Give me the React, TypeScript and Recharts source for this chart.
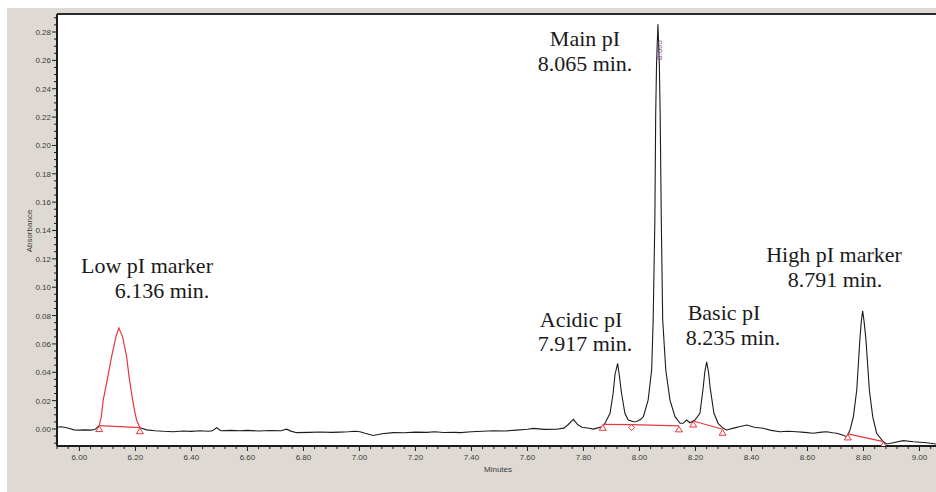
import { LineChart, Line, XAxis, YAxis, CartesianGrid, ReferenceLine } from 'recharts'

// chromatogram trace: [minutes, absorbance]
const baselineStart: [number, number][] = [
  [5.92, 0.0012], [5.935, 0.0016], [5.95, 0.001], [5.965, 0.0004], [5.98, -0.0006],
  [6.0, -0.0008], [6.02, -0.0006], [6.04, -0.0008], [6.055, -0.0004], [6.0707, 0.0024],
]

// drawn in red in the original
const lowMarkerPeak: [number, number][] = [
  [6.0707, 0.0024], [6.078, 0.0085], [6.085, 0.0204], [6.1007, 0.036], [6.115, 0.051],
  [6.1304, 0.065], [6.1411, 0.0712], [6.1543, 0.065], [6.1686, 0.051], [6.1779, 0.036],
  [6.19, 0.0204], [6.198, 0.012], [6.2043, 0.0063], [6.216, 0.0009],
]

const baselineMid: [number, number][] = [
  [6.216, 0.0009], [6.24, -0.0006], [6.27, -0.0012], [6.3, -0.0016], [6.335, -0.0019], [6.37, -0.0014],
  [6.4, -0.0017], [6.43, -0.0012], [6.46, -0.0016], [6.475, -0.0013], [6.49, 0.0009],
  [6.505, -0.0012], [6.54, -0.001], [6.573, -0.0012], [6.6, -0.001], [6.64, -0.0014],
  [6.68, -0.0011], [6.72, -0.0012], [6.74, -0.0001], [6.755, -0.0015], [6.776, -0.0026],
  [6.82, -0.0024], [6.86, -0.0021], [6.9, -0.0024], [6.93, -0.0022], [6.96, -0.002],
  [6.985, -0.0016], [7.002, -0.0019], [7.02, -0.003], [7.049, -0.0046], [7.08, -0.0034],
  [7.12, -0.0026], [7.16, -0.0027], [7.2, -0.0022], [7.24, -0.0024], [7.27, -0.002],
  [7.3, -0.0025], [7.34, -0.0024], [7.36, -0.0026], [7.4, -0.002], [7.44, -0.0016],
  [7.478, -0.0012], [7.52, -0.0014], [7.56, -0.0008], [7.6, -0.0002], [7.621, 0.0004],
  [7.66, -0.0003], [7.704, -0.0002], [7.73, 0.0006], [7.745, 0.003], [7.764, 0.0068],
  [7.78, 0.003], [7.795, 0.0012], [7.82, 0.0005], [7.835, -0.0001], [7.852, 0.0008],
  [7.869, 0.0018],
]

const proteinPeaks: [number, number][] = [
  // acidic
  [7.877, 0.004], [7.895, 0.0111], [7.906, 0.0252], [7.9125, 0.0381], [7.922, 0.0463],
  [7.9279, 0.0381], [7.936, 0.0252], [7.948, 0.0111], [7.96, 0.0063], [7.978, 0.0051],
  // main
  [7.99, 0.0053], [8.005, 0.0068], [8.014, 0.0087], [8.031, 0.0204], [8.0436, 0.0416],
  [8.049, 0.0768], [8.055, 0.147], [8.058, 0.222], [8.061, 0.257], [8.066, 0.2855],
  [8.071, 0.257], [8.074, 0.222], [8.078, 0.147], [8.083, 0.077], [8.094, 0.0416],
  [8.109, 0.0204], [8.127, 0.0087], [8.145, 0.004], [8.156, 0.004], [8.1686, 0.0063],
  [8.18, 0.0044], [8.198, 0.0063],
  // basic
  [8.216, 0.0111], [8.228, 0.0298], [8.2332, 0.04], [8.24, 0.0474], [8.2468, 0.04],
  [8.252, 0.0298], [8.266, 0.0111], [8.281, 0.004], [8.299, 0.0005],
]

const baselineEnd: [number, number][] = [
  [8.311, -0.0007], [8.34, 0.0008], [8.36, 0.0018], [8.383, 0.0028], [8.41, 0.0012],
  [8.442, 0.0005], [8.47, -0.001], [8.502, -0.0019], [8.53, -0.0016], [8.561, -0.0019],
  [8.59, -0.0024], [8.621, -0.003], [8.65, -0.0022], [8.669, -0.0019], [8.69, -0.0026],
  [8.704, -0.003], [8.725, -0.0042], [8.74, -0.0054], [8.752, -0.0007],
  // high pI marker
  [8.764, 0.0087], [8.776, 0.0275], [8.787, 0.0627], [8.792, 0.0754], [8.797, 0.0834],
  [8.8025, 0.0754], [8.809, 0.0627], [8.821, 0.0275], [8.833, 0.0087], [8.847, -0.003],
  [8.871, -0.009], [8.883, -0.0106], [8.906, -0.0097], [8.942, -0.0082], [8.978, -0.009],
  [9.026, -0.0097], [9.059, -0.0106],
]

// integration baselines (red)
const lowBase: [number, number][] = [[6.0707, 0.0024], [6.216, 0.0009]]
const mainBase: [number, number][] = [[7.869, 0.0033], [7.972, 0.0031], [8.141, 0.0022]]
const basicBase: [number, number][] = [[8.192, 0.0056], [8.297, -0.0002]]
const highBase: [number, number][] = [[8.744, -0.0035], [8.871, -0.0089]]

const xMajor = [6.0, 6.2, 6.4, 6.6, 6.8, 7.0, 7.2, 7.4, 7.6, 7.8, 8.0, 8.2, 8.4, 8.6, 8.8, 9.0]
const yMajor = [0, 0.02, 0.04, 0.06, 0.08, 0.1, 0.12, 0.14, 0.16, 0.18, 0.2, 0.22, 0.24, 0.26, 0.28]

const X_DOMAIN: [number, number] = [5.92, 9.059]
const Y_DOMAIN: [number, number] = [-0.012, 0.2927]

const xMinor: number[] = []
for (let i = 0; i <= 78; i++) xMinor.push(Math.round((5.92 + i * 0.04) * 100) / 100)
const yMinor: number[] = []
for (let i = 0; i <= 60; i++) yMinor.push(Math.round((-0.01 + i * 0.005) * 1000) / 1000)

const toPts = (arr: [number, number][]) => arr.map(([t, v]) => ({ t, v }))
const traceLeft = toPts(baselineStart)
const traceRight = toPts([...baselineMid, ...proteinPeaks, ...baselineEnd])

const RED = '#e8383d'
const INK = '#1c1c1c'
const TICK_FONT = '"Liberation Sans", Arial, sans-serif'
const NOTE_FONT = '"Liberation Serif", "Times New Roman", serif'

const isMajor = (list: number[], v: number) => list.some((m) => Math.abs(m - v) < 1e-6)

function XTick({ x, y, payload }: any) {
  const v = payload.value
  const major = isMajor(xMajor, v)
  return (
    <g>
      <line x1={x} x2={x} y1={y} y2={y + (major ? 5 : 3)} stroke={INK} strokeWidth={1} />
      {major && (
        <text x={x} y={y + 14} textAnchor="middle" fontSize={8} fill="#3a3a3a" fontFamily={TICK_FONT}>
          {v.toFixed(2)}
        </text>
      )}
    </g>
  )
}

function YTick({ x, y, payload }: any) {
  const v = payload.value
  const major = isMajor(yMajor, v)
  return (
    <g>
      <line x1={x} x2={x - (major ? 5 : 3)} y1={y} y2={y} stroke={INK} strokeWidth={1} />
      {major && (
        <text x={x - 6} y={y + 3} textAnchor="end" fontSize={8} fill="#3a3a3a" fontFamily={TICK_FONT}>
          {v.toFixed(2)}
        </text>
      )}
    </g>
  )
}

function baseMarker(diamondIndex: number) {
  return (props: any) => {
    const { cx, cy, index } = props
    if (index === diamondIndex) {
      return (
        <path
          key={index}
          d={`M${cx},${cy} L${cx + 3},${cy + 3} L${cx},${cy + 6} L${cx - 3},${cy + 3} Z`}
          fill="#fff"
          stroke={RED}
          strokeWidth={1}
        />
      )
    }
    return (
      <path
        key={index}
        d={`M${cx},${cy + 0.5} L${cx + 3.5},${cy + 6} L${cx - 3.5},${cy + 6} Z`}
        fill="#fff"
        stroke={RED}
        strokeWidth={1}
      />
    )
  }
}

const notes = [
  { text: 'Main pI', x: 585, y: 46 },
  { text: '8.065 min.', x: 585, y: 71 },
  { text: 'Low pI marker', x: 147, y: 273 },
  { text: '6.136 min.', x: 162, y: 298 },
  { text: 'Acidic pI', x: 581, y: 327 },
  { text: '7.917 min.', x: 585, y: 351 },
  { text: 'Basic pI', x: 724, y: 320 },
  { text: '8.235 min.', x: 733, y: 345 },
  { text: 'High pI marker', x: 834, y: 262 },
  { text: '8.791 min.', x: 835, y: 287 },
]

export default function App() {
  return (
    <div style={{ position: 'absolute', left: 0, top: 0, width: 936, height: 492, background: '#fff' }}>
      <div style={{ position: 'absolute', left: 7, top: 8, width: 929, height: 484, background: '#dedad3' }} />
      <div style={{ position: 'absolute', left: 0, top: 0 }}>
        <LineChart width={936} height={492} margin={{ top: 14, right: 0, bottom: 6, left: 7 }}>
          <CartesianGrid fill="#fff" horizontal={false} vertical={false} />
          <XAxis
            dataKey="t"
            type="number"
            domain={X_DOMAIN}
            allowDataOverflow
            ticks={xMinor}
            interval={0}
            tickSize={0}
            tickMargin={0}
            tick={<XTick />}
            height={40}
            axisLine={{ stroke: INK, strokeWidth: 2 }}
          />
          <YAxis
            dataKey="v"
            type="number"
            domain={Y_DOMAIN}
            allowDataOverflow
            ticks={yMinor}
            interval={0}
            tickSize={0}
            tickMargin={0}
            tick={<YTick />}
            width={50}
            axisLine={{ stroke: INK, strokeWidth: 2 }}
          />
          <ReferenceLine y={Y_DOMAIN[1]} stroke="#2a2a2a" strokeWidth={2} ifOverflow="visible" />
          <Line data={traceLeft} dataKey="v" type="linear" stroke={INK} strokeWidth={1.1} dot={false} isAnimationActive={false} />
          <Line data={traceRight} dataKey="v" type="linear" stroke={INK} strokeWidth={1.1} dot={false} isAnimationActive={false} />
          <Line data={toPts(lowMarkerPeak)} dataKey="v" type="linear" stroke={RED} strokeWidth={1.2} dot={false} isAnimationActive={false} />
          <Line data={toPts(lowBase)} dataKey="v" type="linear" stroke={RED} strokeWidth={1.2} dot={baseMarker(-1)} isAnimationActive={false} />
          <Line data={toPts(mainBase)} dataKey="v" type="linear" stroke={RED} strokeWidth={1.2} dot={baseMarker(1)} isAnimationActive={false} />
          <Line data={toPts(basicBase)} dataKey="v" type="linear" stroke={RED} strokeWidth={1.2} dot={baseMarker(-1)} isAnimationActive={false} />
          <Line data={toPts(highBase)} dataKey="v" type="linear" stroke={RED} strokeWidth={1.2} dot={baseMarker(-1)} isAnimationActive={false} />
        </LineChart>
      </div>
      <svg width={936} height={492} style={{ position: 'absolute', left: 0, top: 0, pointerEvents: 'none' }}>
        {notes.map((n) => (
          <text key={n.text} x={n.x} y={n.y} textAnchor="middle" fontSize={22} fill="#1a1a1a" fontFamily={NOTE_FONT}>
            {n.text}
          </text>
        ))}
        <text x={659} y={50} transform="rotate(-90 659 50)" textAnchor="middle" dominantBaseline="central" fontSize={8} fill="#7a4f7a" fontFamily={TICK_FONT}>
          8.065
        </text>
        <text x={498} y={472} textAnchor="middle" fontSize={8} fill="#3a3a3a" fontFamily={TICK_FONT}>
          Minutes
        </text>
        <text x={32} y={231} transform="rotate(-90 32 231)" textAnchor="middle" fontSize={8} fill="#3a3a3a" fontFamily={TICK_FONT}>
          Absorbance
        </text>
      </svg>
    </div>
  )
}
